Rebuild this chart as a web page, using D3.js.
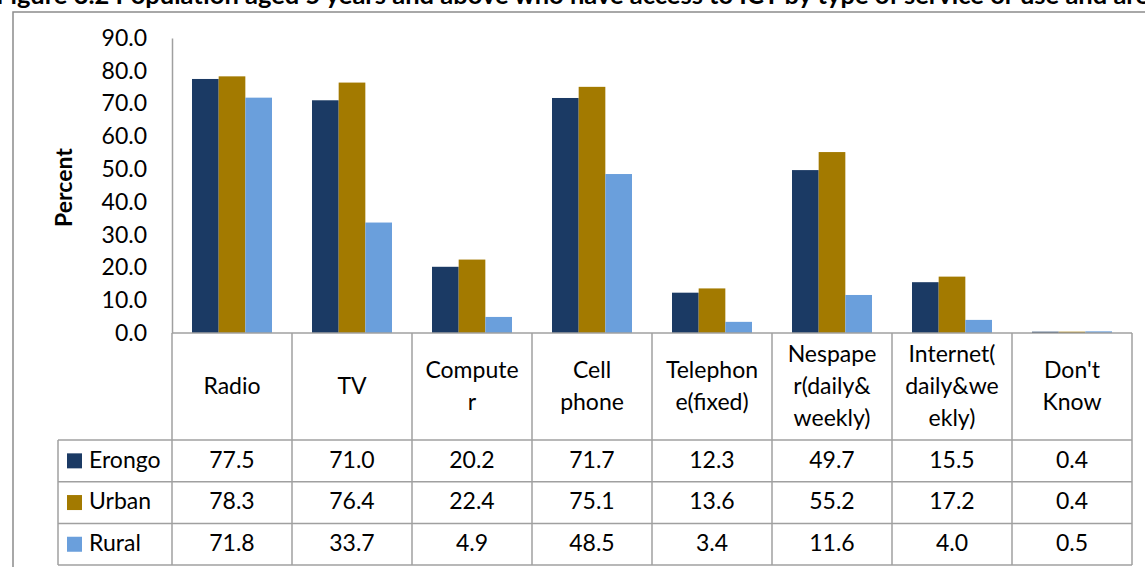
<!DOCTYPE html>
<html>
<head>
<meta charset="utf-8">
<script src="https://cdn.jsdelivr.net/npm/d3@7"></script>
<style>
  body { margin: 0; background: #fff; }
  svg { display: block; font-family: Lato, "Open Sans", sans-serif; }
</style>
</head>
<body>
<div id="chart"></div>
<script>
// chart data
const categories = ["Radio", "TV", "Computer", "Cell phone", "Telephone(fixed)", "Nespaper(daily& weekly)", "Internet(daily&weekly)", "Don't Know"];
const headerLines = [["Radio"], ["TV"], ["Compute", "r"], ["Cell", "phone"], ["Telephon", "e(fixed)"], ["Nespape", "r(daily&", "weekly)"], ["Internet(", "daily&we", "ekly)"], ["Don't", "Know"]];
const seriesNames = ["Erongo", "Urban", "Rural"];
const erongo = [77.5, 71.0, 20.2, 71.7, 12.3, 49.7, 15.5, 0.4];
const urban = [78.3, 76.4, 22.4, 75.1, 13.6, 55.2, 17.2, 0.4];
const rural = [71.8, 33.7, 4.9, 48.5, 3.4, 11.6, 4.0, 0.5];
const yTicks = [0, 10, 20, 30, 40, 50, 60, 70, 80, 90];
const colors = ["#1b3a64", "#a37a00", "#6a9fdc"];

const width = 1145;
const height = 567;
const plot = {left: 172, right: 1132, top: 38, bottom: 333};
const legendLeft = 58;
const headerBottom = 440;
const rowH = 41.7;
const gridColor = "#a0a0a0";
const fontSize = "23px";

const series = [erongo, urban, rural];

const svg = d3.select("#chart")
  .append("svg")
  .attr("width", width)
  .attr("height", height);

// title (cut off at the top of the picture, as in the source)
svg.append("text")
  .attr("x", -4)
  .attr("y", 4)
  .attr("font-size", "25.5px")
  .attr("font-weight", "bold")
  .attr("fill", "#000")
  .text("Figure 3.2  Population aged 5 years and above who have access to ICT by type of service or use and area");

// outer frame
svg.append("rect")
  .attr("x", 13).attr("y", 12)
  .attr("width", 1200).attr("height", 600)
  .attr("fill", "none")
  .attr("stroke", "#8c8c8c")
  .attr("stroke-width", 1.5);

// scales
const x = d3.scaleBand()
  .domain(d3.range(categories.length))
  .range([plot.left, plot.right]);

const xInner = d3.scaleBand()
  .domain(d3.range(seriesNames.length))
  .range([20, x.bandwidth() - 20]);

const y = d3.scaleLinear()
  .domain([0, 90])
  .range([plot.bottom, plot.top]);

// y axis
const yAxis = svg.append("g")
  .attr("transform", `translate(${plot.left},0)`)
  .call(d3.axisLeft(y).tickValues(yTicks).tickFormat(d3.format(".1f")).tickSize(0).tickPadding(25));
yAxis.select(".domain").attr("stroke", gridColor).attr("stroke-width", 1.5);
yAxis.selectAll("text")
  .attr("font-family", "Lato, 'Open Sans', sans-serif")
  .attr("font-size", fontSize)
  .attr("fill", "#000");

svg.append("text")
  .attr("transform", `translate(72,${(plot.top + plot.bottom) / 2 + 2}) rotate(-90)`)
  .attr("text-anchor", "middle")
  .attr("font-size", "23px")
  .attr("font-weight", "bold")
  .text("Percent");

// bars
const groups = svg.selectAll(".grp")
  .data(categories)
  .enter()
  .append("g")
  .attr("class", "grp")
  .attr("transform", (d, i) => `translate(${x(i)},0)`);

groups.selectAll("rect")
  .data((d, i) => series.map((s, j) => ({j: j, v: s[i]})))
  .enter()
  .append("rect")
  .attr("x", d => xInner(d.j))
  .attr("y", d => y(d.v))
  .attr("width", xInner.bandwidth())
  .attr("height", d => plot.bottom - y(d.v))
  .attr("fill", d => colors[d.j]);

// data table grid
const grid = svg.append("g")
  .attr("stroke", gridColor)
  .attr("stroke-width", 1.5);

const tableBottom = headerBottom + rowH * seriesNames.length;

// horizontal lines
grid.append("line")
  .attr("x1", plot.left).attr("x2", plot.right)
  .attr("y1", plot.bottom).attr("y2", plot.bottom);
d3.range(seriesNames.length + 1).forEach(k => {
  grid.append("line")
    .attr("x1", legendLeft).attr("x2", plot.right)
    .attr("y1", headerBottom + k * rowH).attr("y2", headerBottom + k * rowH);
});

// vertical lines
d3.range(categories.length + 1).forEach(k => {
  const xx = k < categories.length ? x(k) : plot.right;
  grid.append("line")
    .attr("x1", xx).attr("x2", xx)
    .attr("y1", plot.bottom).attr("y2", tableBottom);
});
grid.append("line")
  .attr("x1", legendLeft).attr("x2", legendLeft)
  .attr("y1", headerBottom).attr("y2", tableBottom);

// header labels
const headers = svg.selectAll(".hdr")
  .data(headerLines)
  .enter()
  .append("text")
  .attr("class", "hdr")
  .attr("text-anchor", "middle")
  .attr("font-size", fontSize)
  .attr("fill", "#000");

headers.each(function(lines, i) {
  const cy = (plot.bottom + headerBottom) / 2 + 2;
  const lh = 32;
  const startY = cy - (lines.length - 1) * lh / 2;
  d3.select(this).selectAll("tspan")
    .data(lines)
    .enter()
    .append("tspan")
    .attr("x", x(i) + x.bandwidth() / 2)
    .attr("y", (d, k) => startY + k * lh)
    .attr("dominant-baseline", "middle")
    .text(d => d);
});

// rows
seriesNames.forEach((name, j) => {
  const cy = headerBottom + j * rowH + rowH / 2;
  svg.append("rect")
    .attr("x", legendLeft + 9)
    .attr("y", cy - 7.5)
    .attr("width", 15)
    .attr("height", 15)
    .attr("fill", colors[j]);
  svg.append("text")
    .attr("x", legendLeft + 31)
    .attr("y", cy + 1)
    .attr("dominant-baseline", "middle")
    .attr("font-size", fontSize)
    .text(name);
  svg.selectAll(".val" + j)
    .data(series[j])
    .enter()
    .append("text")
    .attr("class", "val" + j)
    .attr("x", (d, i) => x(i) + x.bandwidth() / 2)
    .attr("y", cy + 1)
    .attr("text-anchor", "middle")
    .attr("dominant-baseline", "middle")
    .attr("font-size", fontSize)
    .text(d => d3.format(".1f")(d));
});
</script>
</body>
</html>
